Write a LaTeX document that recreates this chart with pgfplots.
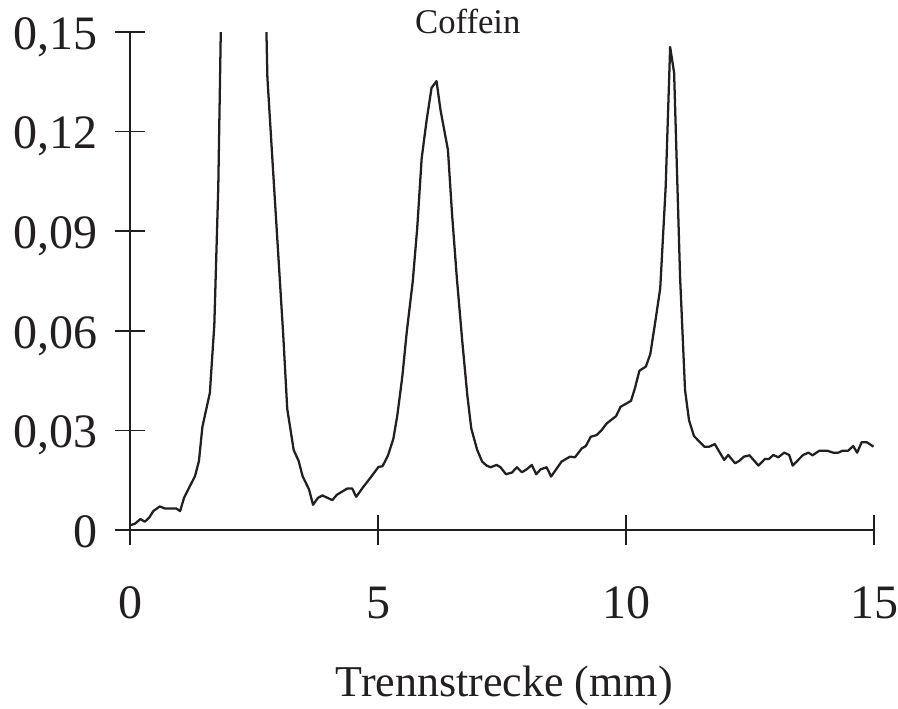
\documentclass[border=0pt]{standalone}
\usepackage{fontspec}
\setmainfont{Liberation Serif}
\usepackage{pgfplots}
\pgfplotsset{compat=1.18}
\definecolor{ink}{HTML}{231F20}

\begin{document}
\begin{tikzpicture}
\useasboundingbox (-97.5pt,-133.5pt) rectangle (576pt,397.5pt);
\begin{axis}[
  at={(0,0)}, anchor=south west,
  width=558pt, height=373.5pt, scale only axis,
  xmin=0, xmax=15, ymin=0, ymax=0.15,
  axis x line=bottom, axis y line=left,
  axis line style={ink, line width=1.3pt, -},
  xtick={0,5,10,15}, ytick={0,0.03,0.06,0.09,0.12,0.15},
  xticklabels={0,5,10,15},
  yticklabels={0,{0,03},{0,06},{0,09},{0,12},{0,15}},
  tick align=center, major tick length=22.5pt,
  tick style={ink, line width=1.3pt},
  tick label style={font=\fontsize{36}{40}\selectfont, text=ink, inner sep=0pt},
  yticklabel style={anchor=base east, xshift=-13pt, yshift=-13pt},
  xticklabel style={anchor=center, yshift=-43.5pt},
  xlabel={Trennstrecke (mm)},
  xlabel style={at={(axis description cs:0.503,-0.314)}, anchor=center,
    font=\fontsize{33}{38}\selectfont, text=ink},
  title={Coffein},
  title style={at={(axis description cs:0.454,1.006)}, anchor=center,
    font=\fontsize{26}{30}\selectfont, text=ink},
]
\addplot[ink, line width=1.7pt, line join=round, mark=none] coordinates {
(0,0.0014) (0.10,0.0019) (0.21,0.0033) (0.30,0.0025) (0.39,0.0038)
(0.47,0.0057) (0.60,0.0071) (0.70,0.0065) (0.93,0.0065) (1.01,0.0057)
(1.09,0.0097) (1.19,0.0127) (1.31,0.0162) (1.39,0.0208) (1.46,0.0311)
(1.61,0.0413) (1.70,0.0618) (1.78,0.1034) (1.88,0.196) (1.98,0.27)
(2.10,0.32) (2.25,0.34) (2.40,0.33) (2.55,0.28) (2.68,0.20)
(2.77,0.1363) (2.90,0.1045) (3.09,0.0586) (3.17,0.0365) (3.30,0.0241)
(3.40,0.0208) (3.48,0.0162) (3.61,0.0122) (3.69,0.0076) (3.79,0.0097)
(3.88,0.0104) (4.08,0.0090) (4.17,0.0106) (4.38,0.0125) (4.48,0.0125)
(4.56,0.0100) (4.70,0.0129) (4.84,0.0156) (5.01,0.0190) (5.09,0.0192)
(5.20,0.0224) (5.31,0.0275) (5.39,0.0346) (5.49,0.0462) (5.58,0.0597)
(5.70,0.0748) (5.79,0.0908) (5.88,0.1119) (5.98,0.1234) (6.08,0.1332)
(6.18,0.1352) (6.26,0.1265) (6.41,0.1145) (6.49,0.0958) (6.59,0.0758)
(6.70,0.0567) (6.80,0.0407) (6.88,0.0306) (7.00,0.0241) (7.10,0.0206)
(7.19,0.0194) (7.27,0.0189) (7.39,0.0196) (7.47,0.0189) (7.58,0.0168)
(7.70,0.0173) (7.80,0.0189) (7.90,0.0174) (8.00,0.0183) (8.10,0.0196)
(8.19,0.0168) (8.28,0.0183) (8.40,0.0189) (8.49,0.0161) (8.70,0.0206)
(8.87,0.0221) (8.97,0.0219) (9.11,0.0246) (9.19,0.0253) (9.29,0.0281)
(9.41,0.0286) (9.51,0.0301) (9.61,0.0321) (9.80,0.0343) (9.89,0.0371)
(10.10,0.0389) (10.18,0.0427) (10.27,0.0480) (10.40,0.0492) (10.49,0.0530)
(10.58,0.0617) (10.69,0.0728) (10.80,0.1034) (10.89,0.1455) (10.97,0.1377)
(11.09,0.0763) (11.19,0.0422) (11.27,0.0331) (11.37,0.0283) (11.58,0.0251)
(11.68,0.0251) (11.79,0.0259) (11.88,0.0236) (11.98,0.0211) (12.06,0.0226)
(12.20,0.0201) (12.28,0.0208) (12.38,0.0221) (12.49,0.0225) (12.67,0.0194)
(12.80,0.0214) (12.88,0.0214) (12.97,0.0226) (13.07,0.0219) (13.19,0.0233)
(13.29,0.0226) (13.36,0.0194) (13.57,0.0226) (13.68,0.0233) (13.76,0.0225)
(13.90,0.0239) (14.05,0.0239) (14.18,0.0233) (14.28,0.0233) (14.37,0.0239)
(14.48,0.0239) (14.58,0.0253) (14.66,0.0233) (14.75,0.0264) (14.86,0.0264)
(14.99,0.0251)
};
\end{axis}
\end{tikzpicture}
\end{document}
